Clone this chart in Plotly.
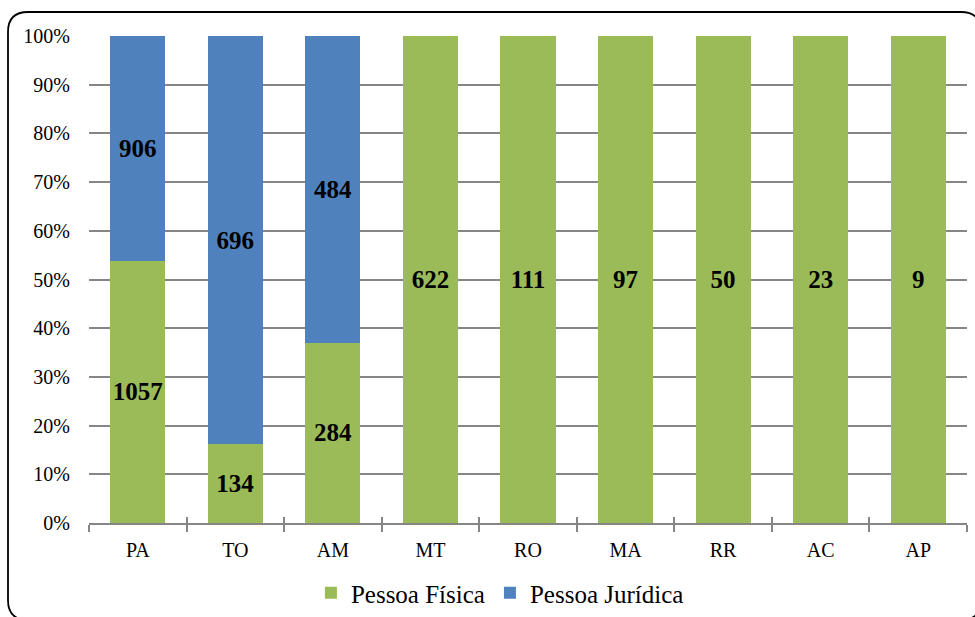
import plotly.graph_objects as go

categories = ["PA", "TO", "AM", "MT", "RO", "MA", "RR", "AC", "AP"]
pessoa_fisica = [1057, 134, 284, 622, 111, 97, 50, 23, 9]
pessoa_juridica = [906, 696, 484, 0, 0, 0, 0, 0, 0]

totals = [f + j for f, j in zip(pessoa_fisica, pessoa_juridica)]
pf_pct = [f / t * 100 for f, t in zip(pessoa_fisica, totals)]
pj_pct = [j / t * 100 for j, t in zip(pessoa_juridica, totals)]

GREEN = "#9BBB59"
BLUE = "#4F81BD"
SERIF = "Liberation Serif"

W, H = 975, 617
L, R, T, B = 89, 8, 36, 94
pw, ph = W - L - R, H - T - B

fig = go.Figure()
fig.add_trace(go.Bar(
    name="Pessoa Física", x=categories, y=pf_pct,
    marker=dict(color=GREEN, line=dict(width=0)),
    text=[str(v) if v else "" for v in pessoa_fisica],
    textposition="inside", insidetextanchor="middle", textangle=0,
    constraintext="none",
    textfont=dict(family=SERIF, size=25, color="black", weight="bold"),
    hoverinfo="skip",
))
fig.add_trace(go.Bar(
    name="Pessoa Jurídica", x=categories, y=pj_pct,
    marker=dict(color=BLUE, line=dict(width=0)),
    text=[str(v) if v else "" for v in pessoa_juridica],
    textposition="inside", insidetextanchor="middle", textangle=0,
    constraintext="none",
    textfont=dict(family=SERIF, size=25, color="black", weight="bold"),
    hoverinfo="skip",
))
fig.add_trace(go.Bar(x=categories, y=[0]*9, xaxis="x2", yaxis="y",
                     showlegend=False, hoverinfo="skip", marker=dict(color="rgba(0,0,0,0)")))

def px2x(px):
    return (px - L) / pw

def px2y(py):
    return 1 - (py - T) / ph

# rounded border
x0, x1, y0, y1, r = 8, 981, 12, 620, 20
path = (f"M {px2x(x0+r)},{px2y(y0)} L {px2x(x1-r)},{px2y(y0)} "
        f"Q {px2x(x1)},{px2y(y0)} {px2x(x1)},{px2y(y0+r)} "
        f"L {px2x(x1)},{px2y(y1-r)} Q {px2x(x1)},{px2y(y1)} {px2x(x1-r)},{px2y(y1)} "
        f"L {px2x(x0+r)},{px2y(y1)} Q {px2x(x0)},{px2y(y1)} {px2x(x0)},{px2y(y1-r)} "
        f"L {px2x(x0)},{px2y(y0+r)} Q {px2x(x0)},{px2y(y0)} {px2x(x0+r)},{px2y(y0)} Z")

fig.update_layout(
    width=W, height=H,
    margin=dict(l=L, r=R, t=T, b=B, autoexpand=False),
    paper_bgcolor="white", plot_bgcolor="white",
    barmode="stack", bargap=0.435,
    font=dict(family=SERIF, color="black"),
    showlegend=True,
    legend=dict(orientation="h", x=0.468, xanchor="center", y=px2y(593), yanchor="middle",
                font=dict(family="Liberation Serif, serif", size=25, color="black"),
                bgcolor="rgba(0,0,0,0)", itemwidth=30, traceorder="normal"),
    shapes=[dict(type="path", xref="paper", yref="paper", path=path,
                 line=dict(color="black", width=1.8), layer="above")],
    xaxis=dict(type="category", showgrid=False, showline=True, linecolor="#868686",
               linewidth=2, ticks="outside", tickson="boundaries", ticklen=7,
               tickcolor="#868686", tickwidth=2, ticklabelstandoff=8,
               tickfont=dict(family=SERIF, size=20, color="black"), range=[-0.5, 8.5]),
    xaxis2=dict(type="category", overlaying="x", showgrid=False, showline=False,
                ticks="inside", tickson="boundaries", ticklen=6, tickcolor="#868686",
                tickwidth=2, showticklabels=False, range=[-0.5, 8.5], anchor="y"),
    yaxis=dict(range=[0, 100], dtick=10, ticksuffix="%", showgrid=True,
               gridcolor="#868686", gridwidth=1.5, showline=False, zeroline=False,
               ticks="", ticklabelstandoff=18,
               tickfont=dict(family=SERIF, size=20, color="black")),
)

fig.write_html("out.html")
